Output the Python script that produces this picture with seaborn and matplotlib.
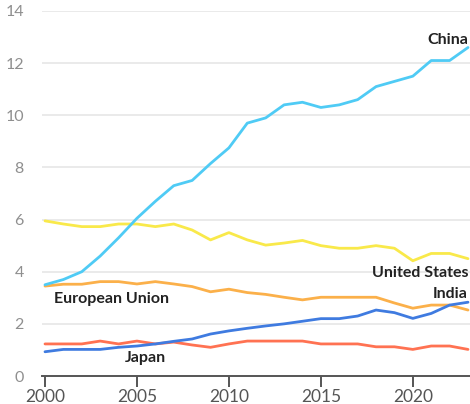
import matplotlib
matplotlib.use("Agg")
import matplotlib.pyplot as plt
import seaborn as sns
import pandas as pd

years = list(range(2000, 2024))

china = [3.5, 3.7, 4.0, 4.6, 5.3, 6.05, 6.7, 7.3, 7.5, 8.15, 8.75, 9.7,
         9.9, 10.4, 10.5, 10.3, 10.4, 10.6, 11.1, 11.3, 11.5, 12.1, 12.1, 12.6]
united_states = [5.95, 5.83, 5.73, 5.73, 5.83, 5.83, 5.73, 5.83, 5.6, 5.22, 5.5, 5.22,
                 5.02, 5.1, 5.2, 5.0, 4.9, 4.9, 5.0, 4.9, 4.42, 4.7, 4.7, 4.5]
european_union = [3.45, 3.52, 3.52, 3.62, 3.62, 3.53, 3.62, 3.53, 3.43, 3.23, 3.33, 3.2,
                  3.13, 3.02, 2.92, 3.02, 3.02, 3.02, 3.02, 2.8, 2.6, 2.72, 2.72, 2.53]
india = [0.93, 1.02, 1.02, 1.02, 1.1, 1.15, 1.23, 1.33, 1.42, 1.61, 1.73, 1.83,
         1.92, 2.0, 2.1, 2.2, 2.2, 2.3, 2.53, 2.43, 2.21, 2.4, 2.72, 2.83]
japan = [1.23, 1.23, 1.23, 1.34, 1.23, 1.34, 1.23, 1.3, 1.19, 1.1, 1.23, 1.34,
         1.34, 1.34, 1.34, 1.23, 1.23, 1.23, 1.12, 1.12, 1.02, 1.15, 1.15, 1.02]

series = {
    "China": china,
    "United States": united_states,
    "European Union": european_union,
    "India": india,
    "Japan": japan,
}
colors = {
    "China": "#4fcbf5",
    "United States": "#f9e94a",
    "European Union": "#fbb04a",
    "India": "#3f7be0",
    "Japan": "#ff7252",
}

df = pd.DataFrame(
    [(y, name, v) for name, vals in series.items() for y, v in zip(years, vals)],
    columns=["year", "region", "value"],
)

sns.set_theme(style="white")
plt.rcParams["font.family"] = ["Lato", "DejaVu Sans"]

fig = plt.figure(figsize=(4.7, 4.04), dpi=100)
ax = fig.add_axes([42 / 470, 1 - 376 / 404, 1 - 42 / 470, (376 - 11) / 404])

order = ["United States", "European Union", "Japan", "India", "China"]
sns.lineplot(data=df, x="year", y="value", hue="region", hue_order=order,
             palette=colors, linewidth=2.0, legend=False, ax=ax)

ax.set_xlim(2000 - 3 / 18.4, 2023 + 2 / 18.4)
ax.set_ylim(0, 14)
ax.set_yticks([0, 2, 4, 6, 8, 10, 12, 14])
ax.set_xticks([2000, 2005, 2010, 2015, 2020])
ax.set_xlabel("")
ax.set_ylabel("")

ax.yaxis.grid(True, color="#e6e6e6", linewidth=1.2)
ax.set_axisbelow(True)
for side in ["top", "right", "left"]:
    ax.spines[side].set_visible(False)
ax.spines["bottom"].set_color("#555555")
ax.spines["bottom"].set_linewidth(1.4)

ax.tick_params(axis="y", length=0, pad=13, labelsize=11.5, labelcolor="#8f8f8f")
ax.tick_params(axis="x", direction="out", length=8, width=1.4, color="#555555",
               pad=1.5, labelsize=12.5, labelcolor="#555555", bottom=True)
for lbl in ax.get_xticklabels():
    lbl.set_clip_on(False)

label_kw = dict(fontsize=11.5, fontweight="bold", color="#222222")
ax.text(2023, 12.9, "China", ha="right", va="center", **label_kw)
ax.text(2023, 3.95, "United States", ha="right", va="center", **label_kw)
ax.text(2023, 3.15, "India", ha="right", va="center", **label_kw)
ax.text(2000.5, 2.95, "European Union", ha="left", va="center", **label_kw)
ax.text(2004.35, 0.69, "Japan", ha="left", va="center", **label_kw)

fig.savefig("out.png", dpi=100)
